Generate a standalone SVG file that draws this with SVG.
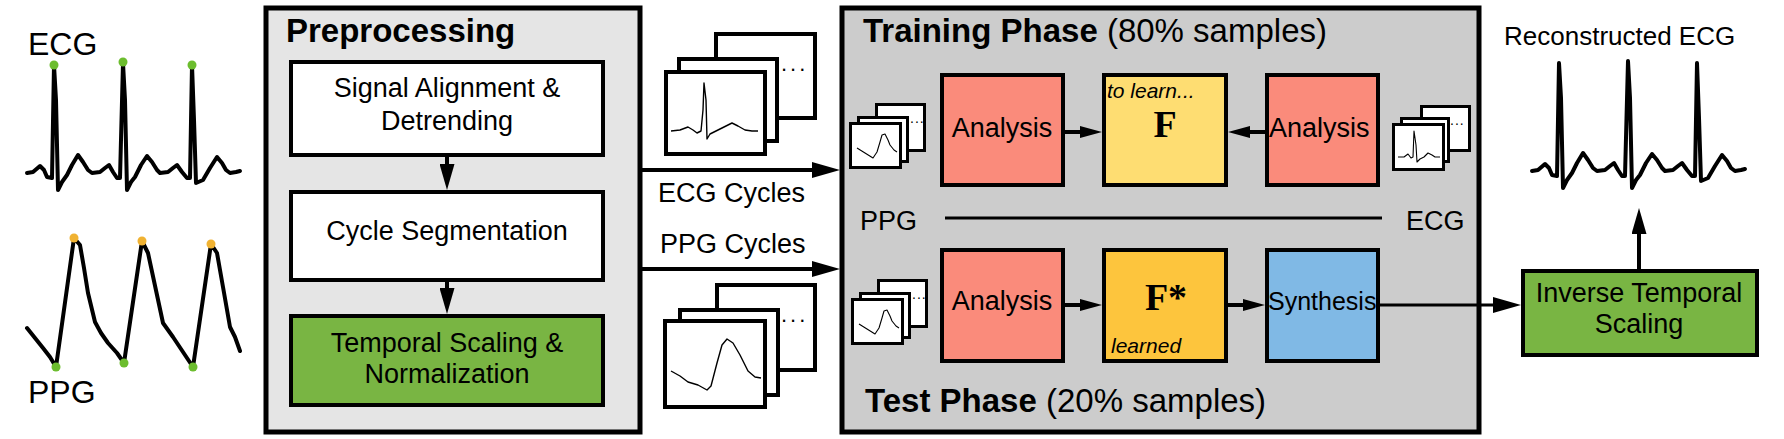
<svg xmlns="http://www.w3.org/2000/svg" xmlns:xlink="http://www.w3.org/1999/xlink" width="1784" height="439" viewBox="0 0 1784 439">
<style>
  .t { font-family: "Liberation Sans", Arial, sans-serif; fill: #000; }
  .c { text-anchor: middle; }
  .b { font-weight: bold; }
  .it { font-style: italic; }
  .serif { font-family: "Liberation Serif", "Times New Roman", serif; font-weight: bold; }
  .box { stroke: #000; stroke-width: 4; }
  .outer { stroke: #000; stroke-width: 5; }
  .card { fill: #fff; stroke: #000; stroke-width: 4; }
  .cards { fill: #fff; stroke: #000; stroke-width: 3; }
  .sig { fill: none; stroke: #000; stroke-width: 4; stroke-linejoin: round; stroke-linecap: round; }
  .wave { fill: none; stroke: #000; stroke-width: 1.4; stroke-linejoin: round; }
  .wave-s { fill: none; stroke: #000; stroke-width: 1.1; stroke-linejoin: round; }
  .ln { stroke: #000; stroke-width: 4; fill: none; }
  .red { fill: #fa8b7b; }
  .yel { fill: #fedd72; }
  .gold { fill: #fdc53d; }
  .blue { fill: #80b9e5; }
  .grn { fill: #79b543; }
  .gdot { fill: #6cbd2e; }
  .odot { fill: #f0b232; }
</style>
<defs>
  <marker id="ahL" viewBox="0 0 28 16" refX="1" refY="8" markerWidth="28" markerHeight="16" orient="auto" markerUnits="userSpaceOnUse"><path d="M0,0 L28,8 L0,16 z" fill="#000"/></marker>
  <marker id="ahP" viewBox="0 0 26 15" refX="1" refY="7.5" markerWidth="26" markerHeight="15" orient="auto" markerUnits="userSpaceOnUse"><path d="M0,0 L26,7.5 L0,15 z" fill="#000"/></marker>
  <marker id="ahS" viewBox="0 0 22 12" refX="1" refY="6" markerWidth="22" markerHeight="12" orient="auto" markerUnits="userSpaceOnUse"><path d="M0,0 L22,6 L0,12 z" fill="#000"/></marker>
  <polyline id="ecgTrace" class="sig" points="27,173 33,172 40,166 44,170 47,177 52,178 54,65 56,100 58,190 62,182 67,175 72,165 78,155 83,162 88,170 92,173 100,172 105,168 109,165 113,172 117,178 120,178 123,63 125,100 127,190 131,182 135,177 141,165 147,156 152,162 157,170 160,173 168,172 173,168 177,165 182,172 187,178 190,178 192,65 194,120 196,183 203,180 210,168 217,157 222,163 226,170 230,173 236,172 240,171"/>
  <g id="smallPPGStack">
    <rect class="cards" x="876.5" y="104.5" width="48" height="46"/>
    <rect class="cards" x="858.5" y="117.5" width="49" height="44"/>
    <rect class="cards" x="850.5" y="123.5" width="50" height="44"/>
    <text class="t" x="910" y="123" font-size="14" letter-spacing="1">...</text>
    <polyline class="wave-s" points="857,148 865,153 873,158 877,152 880,142 882,135 885,134 888,140 890,145 894,150 897,152"/>
  </g>
</defs>

<!-- Input signals -->
<g id="ecg-input">
  <text class="t" x="28" y="55" font-size="32">ECG</text>
  <use xlink:href="#ecgTrace"/>
  <circle class="gdot" cx="54" cy="65" r="4.5"/>
  <circle class="gdot" cx="123" cy="62" r="4.5"/>
  <circle class="gdot" cx="192" cy="65" r="4.5"/>
</g>
<g id="ppg-input">
  <text class="t" x="28" y="403" font-size="32">PPG</text>
  <polyline class="sig" points="27,328 35,338 43,348 50,357 56,367 74,238 80,245 84,268 88,293 95,322 101,333 108,343 117,353 124,363 142,241 148,253 157,295 163,323 173,337 183,352 193,367 211,244 217,253 223,287 230,327 235,337 240,351"/>
  <circle class="odot" cx="74" cy="238" r="4.5"/>
  <circle class="odot" cx="142" cy="241" r="4.5"/>
  <circle class="odot" cx="211" cy="244" r="4.5"/>
  <circle class="gdot" cx="56" cy="367" r="4.5"/>
  <circle class="gdot" cx="124" cy="363" r="4.5"/>
  <circle class="gdot" cx="193" cy="367" r="4.5"/>
</g>

<!-- Preprocessing -->
<g id="preprocessing">
  <rect class="outer" x="266" y="8" width="374" height="424" fill="#e5e5e5"/>
  <text class="t b" x="286" y="42" font-size="33">Preprocessing</text>
</g>
<g id="signal-alignment">
  <rect class="box" x="291" y="62" width="312" height="93" fill="#fff"/>
  <text class="t c" x="447" y="97" font-size="27">Signal Alignment &amp;</text>
  <text class="t c" x="447" y="130" font-size="27">Detrending</text>
</g>
<g id="cycle-segmentation">
  <rect class="box" x="291" y="192" width="312" height="88" fill="#fff"/>
  <text class="t c" x="447" y="240" font-size="27">Cycle Segmentation</text>
</g>
<g id="temporal-scaling">
  <rect class="box grn" x="291" y="316" width="312" height="89"/>
  <text class="t c" x="447" y="352" font-size="27">Temporal Scaling &amp;</text>
  <text class="t c" x="447" y="383" font-size="27">Normalization</text>
</g>

<!-- Cycle stacks -->
<g id="ecg-cycles-stack">
  <rect class="card" x="716" y="34" width="99" height="84"/>
  <rect class="card" x="679" y="59" width="98" height="82"/>
  <rect class="card" x="666" y="72" width="99" height="82"/>
  <text class="t" x="781" y="71" font-size="22" letter-spacing="3">...</text>
  <polyline class="wave" points="671,131 680,130 688,127 693,130 697,133 701,131 703,110 704,83 706,100 707,139 710,134 716,131 722,128 728,125 732,123 738,126 745,130 752,131 758,131"/>
</g>
<g id="ppg-cycles-stack">
  <rect class="card" x="717" y="285" width="98" height="85"/>
  <rect class="card" x="680" y="310" width="98" height="85"/>
  <rect class="card" x="665" y="321" width="100" height="86"/>
  <text class="t" x="781" y="322" font-size="22" letter-spacing="3">...</text>
  <polyline class="wave" points="671,371 680,376 688,382 698,385 707,390 711,386 717,363 722,345 727,339 733,343 740,355 748,371 755,377 761,378"/>
</g>
<g id="cycle-labels">
  <text class="t" x="658" y="202" font-size="27">ECG Cycles</text>
  <text class="t" x="660" y="253" font-size="27">PPG Cycles</text>
</g>

<!-- Training / Test box -->
<g id="phases">
  <rect class="outer" x="842" y="8" width="637" height="424" fill="#cccccc"/>
  <text class="t" x="863" y="42" font-size="33"><tspan class="b">Training Phase</tspan> (80% samples)</text>
  <text class="t" x="865" y="412" font-size="33"><tspan class="b">Test Phase</tspan> (20% samples)</text>
  <text class="t" x="860" y="230" font-size="27">PPG</text>
  <text class="t" x="1406" y="230" font-size="27">ECG</text>
  <line x1="945" y1="218" x2="1382" y2="218" stroke="#000" stroke-width="3"/>
</g>
<g id="train-ppg-stack">
  <use xlink:href="#smallPPGStack"/>
</g>
<g id="train-ecg-stack">
  <rect class="cards" x="1421.5" y="106.5" width="48" height="44"/>
  <rect class="cards" x="1401.5" y="118.5" width="47" height="43"/>
  <rect class="cards" x="1393.5" y="124.5" width="50" height="45"/>
  <text class="t" x="1450" y="125" font-size="14" letter-spacing="1">...</text>
  <polyline class="wave-s" points="1398,157 1404,157 1408,154 1411,158 1413,157 1414,131 1416,145 1417,162 1420,159 1424,157 1428,153 1432,155 1435,157 1440,157"/>
</g>
<g id="test-ppg-stack">
  <use xlink:href="#smallPPGStack" transform="translate(2,176)"/>
</g>
<g id="analysis-ppg-train">
  <rect class="box red" x="942" y="75" width="121" height="110"/>
  <text class="t c" x="1002" y="137" font-size="27">Analysis</text>
</g>
<g id="f-to-learn">
  <rect class="box yel" x="1104" y="75" width="122" height="110"/>
  <text class="t it" x="1107" y="98" font-size="21">to learn...</text>
  <text class="serif c" x="1165" y="137" font-size="38">F</text>
</g>
<g id="analysis-ecg-train">
  <rect class="box red" x="1267" y="75" width="111" height="110"/>
  <text class="t" x="1269" y="137" font-size="27">Analysis</text>
</g>
<g id="analysis-ppg-test">
  <rect class="box red" x="942" y="250" width="121" height="111"/>
  <text class="t c" x="1002" y="310" font-size="27">Analysis</text>
</g>
<g id="f-learned">
  <rect class="box gold" x="1104" y="250" width="122" height="111"/>
  <text class="serif c" x="1166" y="310" font-size="38">F*</text>
  <text class="t it" x="1111" y="353" font-size="21">learned</text>
</g>
<g id="synthesis">
  <rect class="box blue" x="1267" y="250" width="111" height="111"/>
  <text class="t" x="1268" y="310" font-size="25">Synthesis</text>
</g>

<!-- Output -->
<g id="inverse-scaling">
  <rect class="box grn" x="1523" y="271" width="234" height="84"/>
  <text class="t c" x="1639" y="302" font-size="27">Inverse Temporal</text>
  <text class="t c" x="1639" y="333" font-size="27">Scaling</text>
</g>
<g id="reconstructed-ecg">
  <text class="t" x="1504" y="45" font-size="26">Reconstructed ECG</text>
  <use xlink:href="#ecgTrace" transform="translate(1505,-2)"/>
</g>

<!-- Connectors -->
<g id="connectors">
  <line class="ln" x1="447" y1="157" x2="447" y2="165" marker-end="url(#ahP)"/>
  <line class="ln" x1="447" y1="282" x2="447" y2="289" marker-end="url(#ahP)"/>
  <line class="ln" x1="642" y1="170" x2="813" y2="170" marker-end="url(#ahL)"/>
  <line class="ln" x1="642" y1="269" x2="813" y2="269" marker-end="url(#ahL)"/>
  <line class="ln" x1="1065" y1="132" x2="1081" y2="132" marker-end="url(#ahS)"/>
  <line class="ln" x1="1265" y1="132" x2="1249" y2="132" marker-end="url(#ahS)"/>
  <line class="ln" x1="1065" y1="305" x2="1081" y2="305" marker-end="url(#ahS)"/>
  <line class="ln" x1="1228" y1="305" x2="1244" y2="305" marker-end="url(#ahS)"/>
  <line x1="1380" y1="305" x2="1494" y2="305" stroke="#000" stroke-width="3" marker-end="url(#ahL)"/>
  <line class="ln" x1="1639" y1="269" x2="1639" y2="233" marker-end="url(#ahP)"/>
</g>
</svg>
